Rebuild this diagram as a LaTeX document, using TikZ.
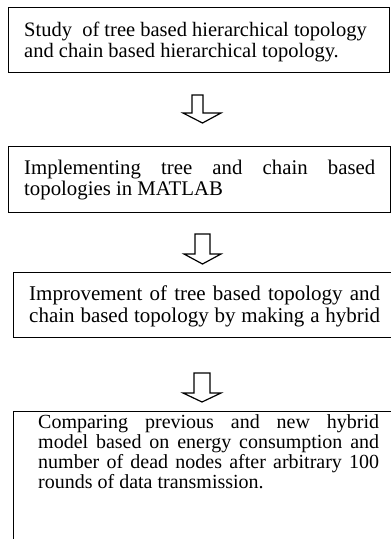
\documentclass[tikz,border=0pt]{standalone}
\usepackage{fontspec}
\setmainfont{Liberation Serif}
\tikzset{
  box/.style={draw=black, line width=1.2pt, fill=white, inner sep=0pt, anchor=north west},
  blockarrow/.style={draw=black, line width=1.2pt, line join=miter, fill=white},
  txt/.style={anchor=base west, inner sep=0pt, text=black}
}
\newcommand{\txtbox}[4]{\begin{minipage}[t]{#1}\fontsize{#2}{#3}\selectfont\parindent=0pt\tolerance=10000\relax #4\end{minipage}}
\begin{document}
\begin{tikzpicture}[x=1pt,y=-1pt]
  \useasboundingbox (0,0) rectangle (391,539);
  \clip (0,0) rectangle (391,539);
  % boxes
  \node[box, minimum width=381pt, minimum height=65pt] (b1) at (8,7) {};
  \node[box, minimum width=382pt, minimum height=66pt] (b2) at (8,146) {};
  \node[box, minimum width=385pt, minimum height=65pt] (b3) at (13,272) {};
  \node[box, minimum width=387pt, minimum height=150pt] (b4) at (13,411) {};
  % texts
  \node[txt] (t1) at (24,36) {\txtbox{365pt}{20.5}{21pt}{\raggedright Study\ \ of tree based hierarchical topology\\and chain based hierarchical topology.}};
  \node[txt] (t2) at (24,174) {\txtbox{351pt}{20.8}{21pt}{Implementing tree and chain based\linebreak topologies in MATLAB}};
  \node[txt] (t3) at (29,300) {\txtbox{351pt}{21}{22pt}{\parfillskip=0pt Improvement of tree based topology and\linebreak chain based topology by making a hybrid}};
  \node[txt] (t4) at (38,428) {\txtbox{341pt}{20}{20pt}{Comparing previous and new hybrid\linebreak model based on energy consumption and\linebreak number of dead nodes after arbitrary 100\linebreak rounds of data transmission.}};
  % block arrows
  \draw[blockarrow] (192,95) -- (203,95) -- (203,113) -- (221,113) -- (202.5,123) -- (183,113) -- (192,113) -- cycle;
  \draw[blockarrow] (195,234) -- (210,234) -- (210,254) -- (221,254) -- (202.5,264) -- (184,254) -- (195,254) -- cycle;
  \draw[blockarrow] (194,373) -- (210,373) -- (210,393) -- (221,393) -- (202,402) -- (183,393) -- (194,393) -- cycle;
\end{tikzpicture}
\end{document}
